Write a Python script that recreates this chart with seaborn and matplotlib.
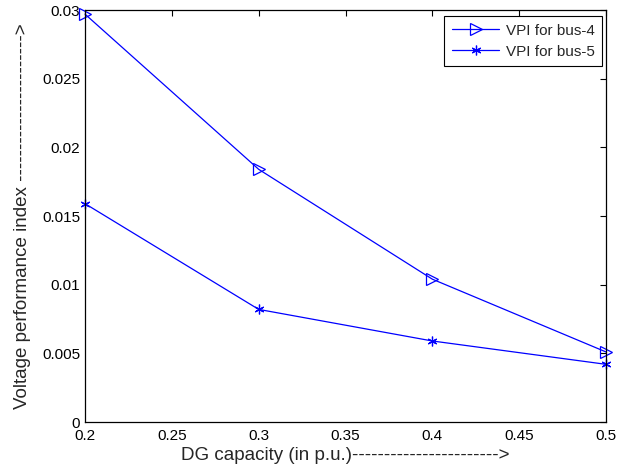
import matplotlib
matplotlib.use("Agg")
import matplotlib.pyplot as plt
import seaborn as sns

# DG capacity (p.u.) and voltage performance index per bus
dg_capacity = [0.2, 0.3, 0.4, 0.5]
vpi_bus4 = [0.0297, 0.0184, 0.0104, 0.0051]
vpi_bus5 = [0.0159, 0.0082, 0.0059, 0.0042]

sns.set_style("white")
plt.rcParams["font.family"] = ["Liberation Sans", "DejaVu Sans"]

fig = plt.figure(figsize=(6.27, 4.73), dpi=100)
ax = fig.add_axes([0.1356, 0.1078, 0.831, 0.871])

blue = "#0000ff"
sns.lineplot(x=dg_capacity, y=vpi_bus4, ax=ax, color=blue, linewidth=0.9,
             marker=">", markersize=9, markerfacecolor="none",
             markeredgecolor=blue, markeredgewidth=0.9, clip_on=False,
             label="VPI for bus-4")
sns.lineplot(x=dg_capacity, y=vpi_bus5, ax=ax, color=blue, linewidth=0.9,
             marker=(6, 2, 0), markersize=7,
             markeredgecolor=blue, markeredgewidth=0.9, clip_on=False,
             label="VPI for bus-5")

ax.set_xlim(0.2, 0.5)
ax.set_ylim(0, 0.03)
ax.set_xticks([0.2, 0.25, 0.3, 0.35, 0.4, 0.45, 0.5])
ax.set_xticklabels(["0.2", "0.25", "0.3", "0.35", "0.4", "0.45", "0.5"])
ax.set_yticks([0, 0.005, 0.01, 0.015, 0.02, 0.025, 0.03])
ax.set_yticklabels(["0", "0.005", "0.01", "0.015", "0.02", "0.025", "0.03"])
ax.tick_params(direction="in", length=4.5, width=0.8, top=True, right=True,
               labelsize=11, colors="black")
ax.tick_params(axis="x", pad=5)
ax.tick_params(axis="y", pad=3.5)
for s in ax.spines.values():
    s.set_visible(True)
    s.set_color("black")
    s.set_linewidth(0.9)

ax.set_xlabel("DG capacity (in p.u.)" + "-" * 23 + ">", fontsize=13.5, labelpad=3)
ax.set_ylabel("Voltage performance index " + "-" * 23 + ">", fontsize=13.5, labelpad=8)

leg = ax.legend(loc="upper right", bbox_to_anchor=(1 - 4 / 521, 1 - 6 / 412),
                borderaxespad=0, fontsize=11, frameon=True, fancybox=False,
                edgecolor="black", framealpha=1, handlelength=3.1,
                handletextpad=0.4, borderpad=0.5, labelspacing=0.45)
leg.get_frame().set_linewidth(0.8)

fig.savefig("out.png", dpi=100)
